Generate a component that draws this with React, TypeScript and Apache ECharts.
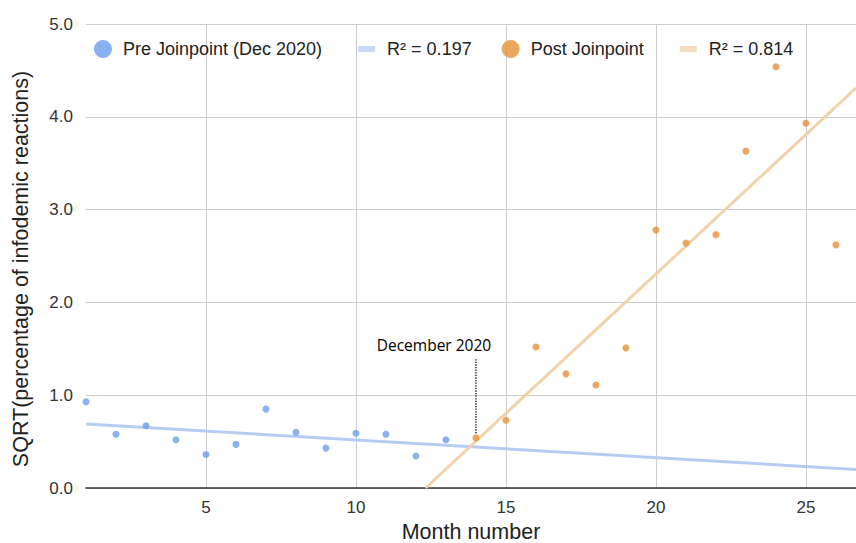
import React, { useEffect, useRef } from "react";
import * as echarts from "echarts";

// Pre joinpoint data (month, sqrt value)
const preMonths = [1, 2, 3, 4, 5, 6, 7, 8, 9, 10, 11, 12, 13];
const preValues = [0.93, 0.58, 0.67, 0.52, 0.36, 0.47, 0.85, 0.6, 0.43, 0.59, 0.58, 0.345, 0.52];
// Post joinpoint data
const postMonths = [14, 15, 16, 17, 18, 19, 20, 21, 22, 23, 24, 25, 26];
const postValues = [0.54, 0.73, 1.52, 1.23, 1.11, 1.51, 2.78, 2.64, 2.73, 3.63, 4.54, 3.93, 2.62];
// Trend line endpoints
const preTrendX = [1, 26.67];
const preTrendY = [0.69, 0.2];
const postTrendX = [12.32, 26.67];
const postTrendY = [0, 4.31];
// Annotation
const annotationX = [14, 14];
const annotationY = [0.59, 1.4];
const annotationLabel = "December 2020";
const annotationLabelPos = [12.6, 1.54];
// Axis ticks
const xTicks = [5, 10, 15, 20, 25];
const legendNames = ["Pre Joinpoint (Dec 2020)", "R² = 0.197", "Post Joinpoint", "R² = 0.814"];

const FONT = "Liberation Sans, Arial, sans-serif";
const lineIcon = "path://M0,0 M30,18 M6,6 L23,6 L23,12 L6,12 Z";

export default function App() {
  const ref = useRef<HTMLDivElement>(null);
  useEffect(() => {
    if (!ref.current) return;
    const chart = echarts.init(ref.current, undefined, { renderer: "svg" });
    const zip = (xs: number[], ys: number[]) => xs.map((x, i) => [x, ys[i]]);
    chart.setOption({
      animation: false,
      backgroundColor: "#ffffff",
      grid: { left: 86, right: 0, top: 24, bottom: 55, outerBoundsMode: "none", containLabel: false },
      legend: {
        left: 89,
        top: 35,
        itemWidth: 30,
        itemHeight: 18,
        itemGap: 30,
        textStyle: { fontFamily: FONT, fontSize: 18, color: "#222" },
        data: [
          { name: legendNames[0], icon: "circle", itemStyle: { color: "#6d9eeb" } },
          { name: legendNames[1], icon: lineIcon, itemStyle: { color: "#c9daf8" } },
          { name: legendNames[2], icon: "circle", itemStyle: { color: "#e69138" } },
          { name: legendNames[3], icon: lineIcon, itemStyle: { color: "#f6dcbc" } },
        ],
      },
      xAxis: {
        type: "value",
        min: 1,
        max: 26.67,
        name: "Month number",
        nameLocation: "middle",
        nameGap: 29,
        nameTextStyle: { fontFamily: FONT, fontSize: 21.5, color: "#222", lineHeight: 22 },
        axisLine: { show: true, onZero: false, lineStyle: { color: "#333", width: 1.5 } },
        axisTick: { show: false, customValues: xTicks },
        axisLabel: {
          customValues: xTicks,
          margin: 11,
          fontFamily: FONT,
          fontSize: 17,
          color: "#333",
        },
        splitLine: { show: true, lineStyle: { color: "#cccccc", width: 1 } },
      },
      yAxis: {
        type: "value",
        min: 0,
        max: 5,
        interval: 1,
        name: "SQRT(percentage of infodemic reactions)",
        nameLocation: "middle",
        nameGap: 54,
        nameTextStyle: { fontFamily: FONT, fontSize: 21.5, color: "#222", padding: [0, 26, 0, 0] },
        axisLine: { show: false },
        axisTick: { show: false },
        axisLabel: {
          margin: 13,
          fontFamily: FONT,
          fontSize: 17,
          color: "#333",
          formatter: (v: number) => v.toFixed(1),
        },
        splitLine: { show: true, lineStyle: { color: "#cccccc", width: 1 } },
      },
      series: [
        {
          name: legendNames[1],
          type: "line",
          data: zip(preTrendX, preTrendY),
          symbol: "none",
          lineStyle: { color: "#b6cdf3", width: 3 },
          itemStyle: { color: "#c9daf8" },
          z: 1,
        },
        {
          name: legendNames[3],
          type: "line",
          data: zip(postTrendX, postTrendY),
          symbol: "none",
          lineStyle: { color: "#f3d2aa", width: 3 },
          itemStyle: { color: "#f6dcbc" },
          z: 1,
        },
        {
          name: "annotation",
          type: "line",
          data: zip(annotationX, annotationY),
          symbol: "none",
          lineStyle: { color: "#000", width: 1.3, type: "dotted" },
          z: 2,
          markPoint: {
            symbol: "circle",
            symbolSize: 0,
            data: [
              {
                coord: annotationLabelPos,
                label: {
                  show: true,
                  formatter: annotationLabel,
                  fontFamily: "Open Sans, Noto Sans, sans-serif",
                  fontSize: 15.5,
                  color: "#000",
                  position: "inside",
                },
              },
            ],
          },
        },
        {
          name: legendNames[0],
          type: "scatter",
          data: zip(preMonths, preValues),
          symbolSize: 7,
          itemStyle: { color: "#6d9eeb" },
          z: 3,
        },
        {
          name: legendNames[2],
          type: "scatter",
          data: zip(postMonths, postValues),
          symbolSize: 7,
          itemStyle: { color: "#e69138" },
          z: 3,
        },
      ],
    });
    return () => chart.dispose();
  }, []);
  return (
    <div
      ref={ref}
      style={{ position: "fixed", left: 0, top: 0, width: 856, height: 543 }}
    />
  );
}
